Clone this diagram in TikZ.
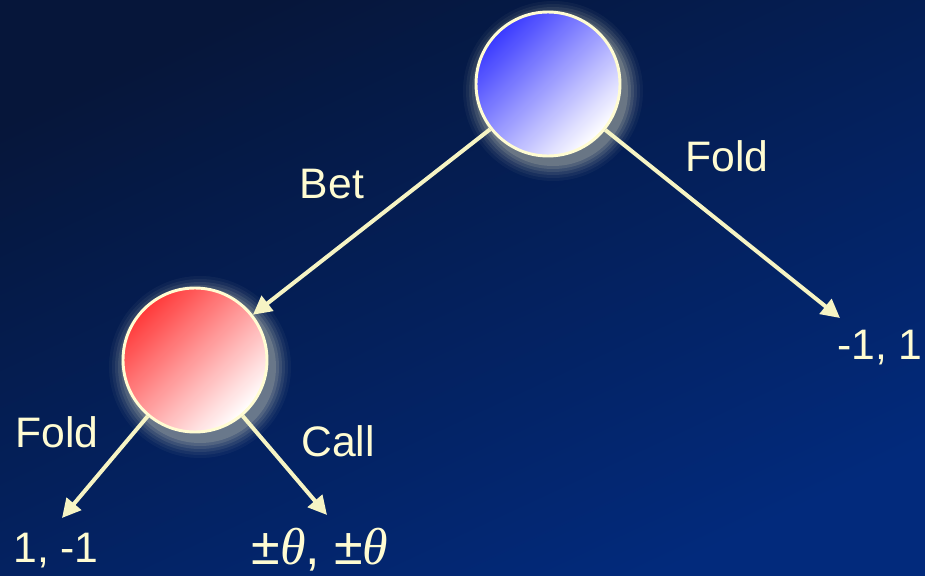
\documentclass[tikz,border=0pt]{standalone}
\usepackage{fontspec}
\setmainfont{Liberation Sans}
\newfontfamily\thetafont{Liberation Serif}
\usetikzlibrary{arrows.meta}
\definecolor{bgtop}{HTML}{06163A}
\definecolor{bgbot}{HTML}{022A7C}
\definecolor{cream}{HTML}{FFFCD2}
\definecolor{lineclr}{HTML}{F6F4C4}
\definecolor{bluec}{HTML}{3A3AFF}
\definecolor{redc}{HTML}{FF3A3A}
\newcommand{\thet}{{\thetafont\itshape θ}}
\tikzset{
  state/.style={circle, draw=cream, line width=2.2pt, minimum size=108pt, inner sep=0pt},
  edge/.style={draw=lineclr, line width=3pt, -{Triangle[length=14pt,width=14pt]}},
  lbl/.style={text=cream, font=\fontsize{32}{36}\selectfont, inner sep=0pt}
}
\begin{document}
\begin{tikzpicture}[x=0.75pt,y=-0.75pt]
\useasboundingbox (0,0) rectangle (925,575);
\shade[top color=bgtop, bottom color=bgbot, shading angle=25] (0,0) rectangle (925,575);
% glows
\foreach \r/\o in {18/0.04,15/0.05,12/0.07,9/0.09,6/0.11,3/0.14}{
  \fill[cream, opacity=\o] (553,91) circle ({(72+\r)*0.75pt});
  \fill[cream, opacity=\o] (200,367) circle ({(73+\r)*0.75pt});
}
\node[state, top color=bluec, bottom color=white, shading angle=45] (p1) at (548,84) {};
\node[state, top color=redc, bottom color=white, shading angle=45] (p2) at (195,360) {};
\coordinate (t1) at (840,318);
\coordinate (t2) at (62,518);
\coordinate (t3) at (327,515);
\draw[edge] (p1) -- (p2);
\draw[edge] (p1) -- (t1);
\draw[edge] (p2) -- (t2);
\draw[edge] (p2) -- (t3);
\node[lbl] (lbet) at (332,184) {Bet};
\node[lbl] (lfold1) at (727,156) {Fold};
\node[lbl] (lfold2) at (57,432) {Fold};
\node[lbl] (lcall) at (338,441) {Call};
\node[lbl] (r1) at (880,348) {-1, 1};
\node[lbl] (r2) at (56,551) {1, -1};
\node[lbl, font=\fontsize{39}{42}\selectfont] (r3) at (320,550) {±\thet, ±\thet};
\end{tikzpicture}
\end{document}
